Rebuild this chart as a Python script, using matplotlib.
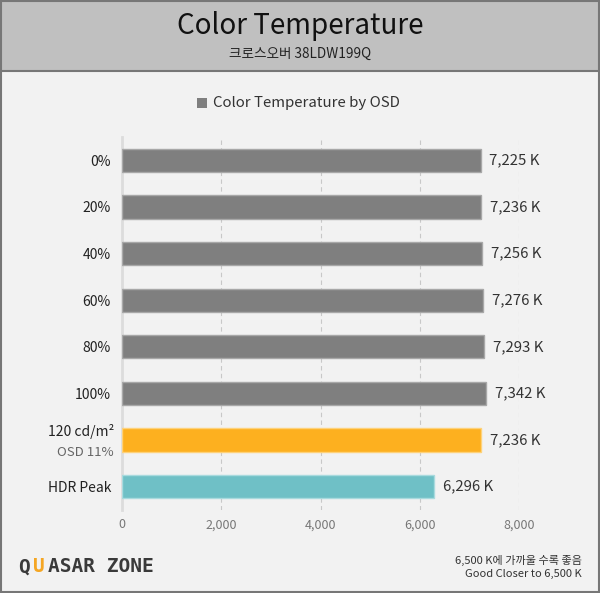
import matplotlib
matplotlib.use("Agg")
import matplotlib.pyplot as plt
from matplotlib.patches import Rectangle

plt.rcParams['font.family'] = ['Noto Sans CJK KR', 'DejaVu Sans']

categories = ["0%", "20%", "40%", "60%", "80%", "100%", "120 cd/m²", "HDR Peak"]
values = [7225, 7236, 7256, 7276, 7293, 7342, 7236, 6296]
colors = ["#7f7f7f"] * 6 + ["#fdb01f", "#6fc0c6"]
edges = ["#a8a8a8"] * 6 + ["#fed27a", "#a9dade"]
xticks = [0, 2000, 4000, 6000, 8000]
title = "Color Temperature"
subtitle = "크로스오버 38LDW199Q"
legend_label = "Color Temperature by OSD"

W, H = 600, 593
fig = plt.figure(figsize=(W / 100, H / 100), dpi=100)
fig.patch.set_facecolor("#f2f2f2")

# header band
fig.patches.append(Rectangle((0, 1 - 71 / H), 1, 71 / H, transform=fig.transFigure,
                             facecolor="#c0c0c0", edgecolor="#777777", lw=1.5, zorder=0))
fig.patches.append(Rectangle((0.0015, 0.0015), 0.997, 0.997, transform=fig.transFigure,
                             facecolor="none", edgecolor="#777777", lw=1.5, zorder=5))
fig.text(0.5, 1 - 26 / H, title, ha="center", va="center", fontsize=20, color="#111111")
fig.text(0.5, 1 - 54 / H, subtitle, ha="center", va="center", fontsize=9.8, color="#222222")

# legend
fig.patches.append(Rectangle((197 / W, 1 - 108 / H), 10 / W, 10 / H, transform=fig.transFigure,
                             facecolor="#7f7f7f", edgecolor="none"))
fig.text(213 / W, 1 - 103 / H, legend_label, ha="left", va="center", fontsize=10.8, color="#333333")

x0, x1 = 122, 519
top, bot = 137, 510
ax = fig.add_axes([x0 / W, 1 - bot / H, (x1 - x0) / W, (bot - top) / H])
ax.set_facecolor("none")
ax.set_xlim(0, 8000)
ax.set_ylim(len(values) - 0.5, -0.5)
ypos = list(range(len(values)))
ax.barh(ypos, values, height=0.5, color=colors, edgecolor=edges, linewidth=1, zorder=3)
for y, v in zip(ypos, values):
    ax.text(v + 180, y, f"{v:,} K", ha="left", va="center", fontsize=10.8, color="#333333")

ax.set_xticks(xticks)
ax.set_xticklabels([f"{t:,}" for t in xticks], fontsize=9, color="#777777")
ax.xaxis.grid(True, linestyle=(0, (4, 3)), color="#c8c8c8", lw=0.8, zorder=0)
ax.tick_params(axis="x", length=0, pad=6)
ax.set_yticks(ypos)
labels = categories[:]
labels[6] = ""
ax.set_yticklabels(labels, fontsize=10, color="#222222")
ax.tick_params(axis="y", length=0, pad=8)
ax.text(-0.02, 6 - 0.18, categories[6], transform=ax.get_yaxis_transform(), ha="right",
        va="center", fontsize=10, color="#222222")
ax.text(-0.02, 6 + 0.27, "OSD 11%", transform=ax.get_yaxis_transform(), ha="right",
        va="center", fontsize=9.5, color="#666666")
for s in ["top", "right", "bottom"]:
    ax.spines[s].set_visible(False)
ax.spines["left"].set_color("#dcdcdc")
ax.spines["left"].set_linewidth(2)

# logo
logo_y = 1 - 567 / H
fig.text(18 / W, logo_y, "Q", ha="left", va="center", fontsize=14, fontweight="bold", color="#3a3a3a",
         family="DejaVu Sans Mono")
fig.text(33 / W, logo_y, "U", ha="left", va="center", fontsize=14, fontweight="bold", color="#f5a623",
         family="DejaVu Sans Mono")
fig.text(48 / W, logo_y, "ASAR ZONE", ha="left", va="center", fontsize=14, fontweight="bold",
         color="#3a3a3a", family="DejaVu Sans Mono")

fig.text(582 / W, 1 - 560 / H, "6,500 K에 가까울 수록 좋음", ha="right", va="center", fontsize=8, color="#333333")
fig.text(582 / W, 1 - 574 / H, "Good Closer to 6,500 K", ha="right", va="center", fontsize=8, color="#333333")

fig.savefig("out.png", dpi=100, facecolor=fig.get_facecolor())
